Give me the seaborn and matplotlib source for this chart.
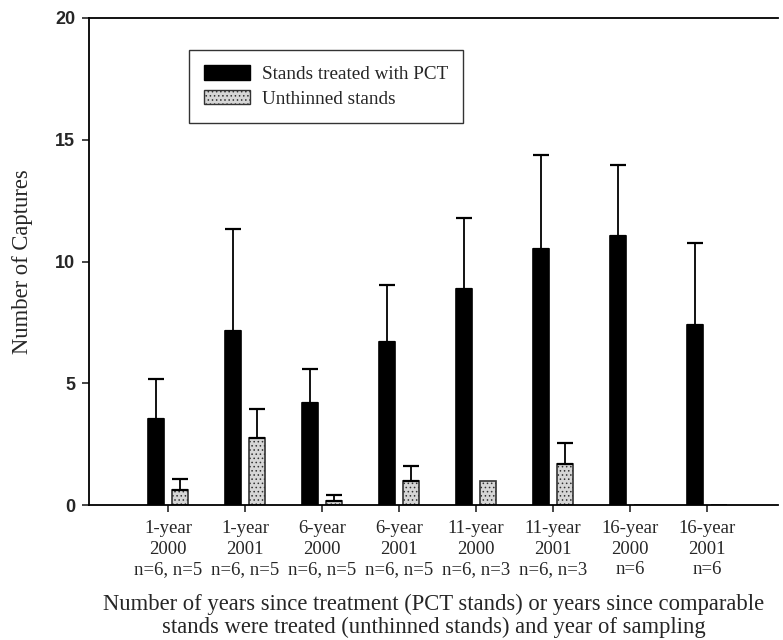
import matplotlib
matplotlib.use("Agg")
import matplotlib.pyplot as plt
from matplotlib.patches import Patch
import seaborn as sns
import pandas as pd
import numpy as np

categories = ["1-year\n2000\nn=6, n=5", "1-year\n2001\nn=6, n=5", "6-year\n2000\nn=6, n=5",
              "6-year\n2001\nn=6, n=5", "11-year\n2000\nn=6, n=3", "11-year\n2001\nn=6, n=3",
              "16-year\n2000\nn=6", "16-year\n2001\nn=6"]
groups = ["Stands treated with PCT", "Unthinned stands"]
pct_mean = [3.55, 7.15, 4.19, 6.69, 8.87, 10.51, 11.05, 7.39]
pct_se = [1.62, 4.18, 1.40, 2.34, 2.92, 3.86, 2.91, 3.37]
unth_mean = [0.6, 2.75, 0.15, 1.0, 1.0, 1.7, 0.0, 0.0]
unth_se = [0.45, 1.2, 0.25, 0.6, 0.0, 0.85, 0.0, 0.0]
yticks = [0, 5, 10, 15, 20]

df = pd.DataFrame({
    "category": categories * 2,
    "group": [groups[0]] * len(categories) + [groups[1]] * len(categories),
    "value": pct_mean + unth_mean,
})

sns.set_style("ticks")
plt.rcParams["font.family"] = ["Liberation Serif", "DejaVu Serif"]
plt.rcParams["hatch.linewidth"] = 0.6

fig = plt.figure(figsize=(7.83, 6.4), dpi=100)
ax = fig.add_axes([0.1137, 0.2109, 0.88, 0.761])

palette = {groups[0]: "black", groups[1]: "#d6d6d6"}
sns.barplot(data=df, x="category", y="value", hue="group", order=categories,
            hue_order=groups, palette=palette, edgecolor="black", linewidth=1.2,
            errorbar=None, width=0.62, gap=0.33, saturation=1, ax=ax)

for p in ax.containers[1]:
    p.set_hatch("....")
    p.set_edgecolor("#333333")

for cont, se in zip(ax.containers, [pct_se, unth_se]):
    for p, e in zip(cont, se):
        if e > 0:
            xc = p.get_x() + p.get_width() / 2
            ax.errorbar(xc, p.get_height(), yerr=[[0], [e]], fmt="none",
                        ecolor="black", elinewidth=1.3, capsize=5.5, capthick=1.6)

if ax.get_legend() is not None:
    ax.get_legend().remove()

handles = [Patch(facecolor="black", edgecolor="black"),
           Patch(facecolor="#d6d6d6", edgecolor="#333333", hatch="....")]
leg = ax.legend(handles, groups, loc="upper left", bbox_to_anchor=(0.145, 0.934),
                borderaxespad=0, frameon=True, fancybox=False, fontsize=13.8,
                handlelength=2.4, handleheight=0.75, handletextpad=0.6,
                labelspacing=0.38, borderpad=0.8)
leg.get_frame().set_edgecolor("black")
leg.get_frame().set_linewidth(1.0)

ax.set_xlim(-1.026, 7.92)
ax.set_ylim(0, 20)
ax.set_yticks(yticks)
ax.set_yticklabels([str(t) for t in yticks], fontfamily="Liberation Sans",
                   fontweight="bold", fontsize=13)
ax.tick_params(axis="y", length=5, width=1.2, pad=5)
ax.tick_params(axis="x", length=5, width=1.2, pad=6, labelsize=13.5)
for lbl in ax.get_xticklabels():
    lbl.set_linespacing(1.27)

ax.set_xlabel("Number of years since treatment (PCT stands) or years since comparable\n"
              "stands were treated (unthinned stands) and year of sampling",
              fontsize=16.3, linespacing=1.1, labelpad=11)
ax.set_ylabel("Number of Captures", fontsize=16.3, labelpad=16)

for s in ["top", "left", "bottom"]:
    ax.spines[s].set_visible(True)
    ax.spines[s].set_linewidth(1.3)
    ax.spines[s].set_color("black")
ax.spines["right"].set_visible(False)

fig.savefig("out.png", dpi=100)
